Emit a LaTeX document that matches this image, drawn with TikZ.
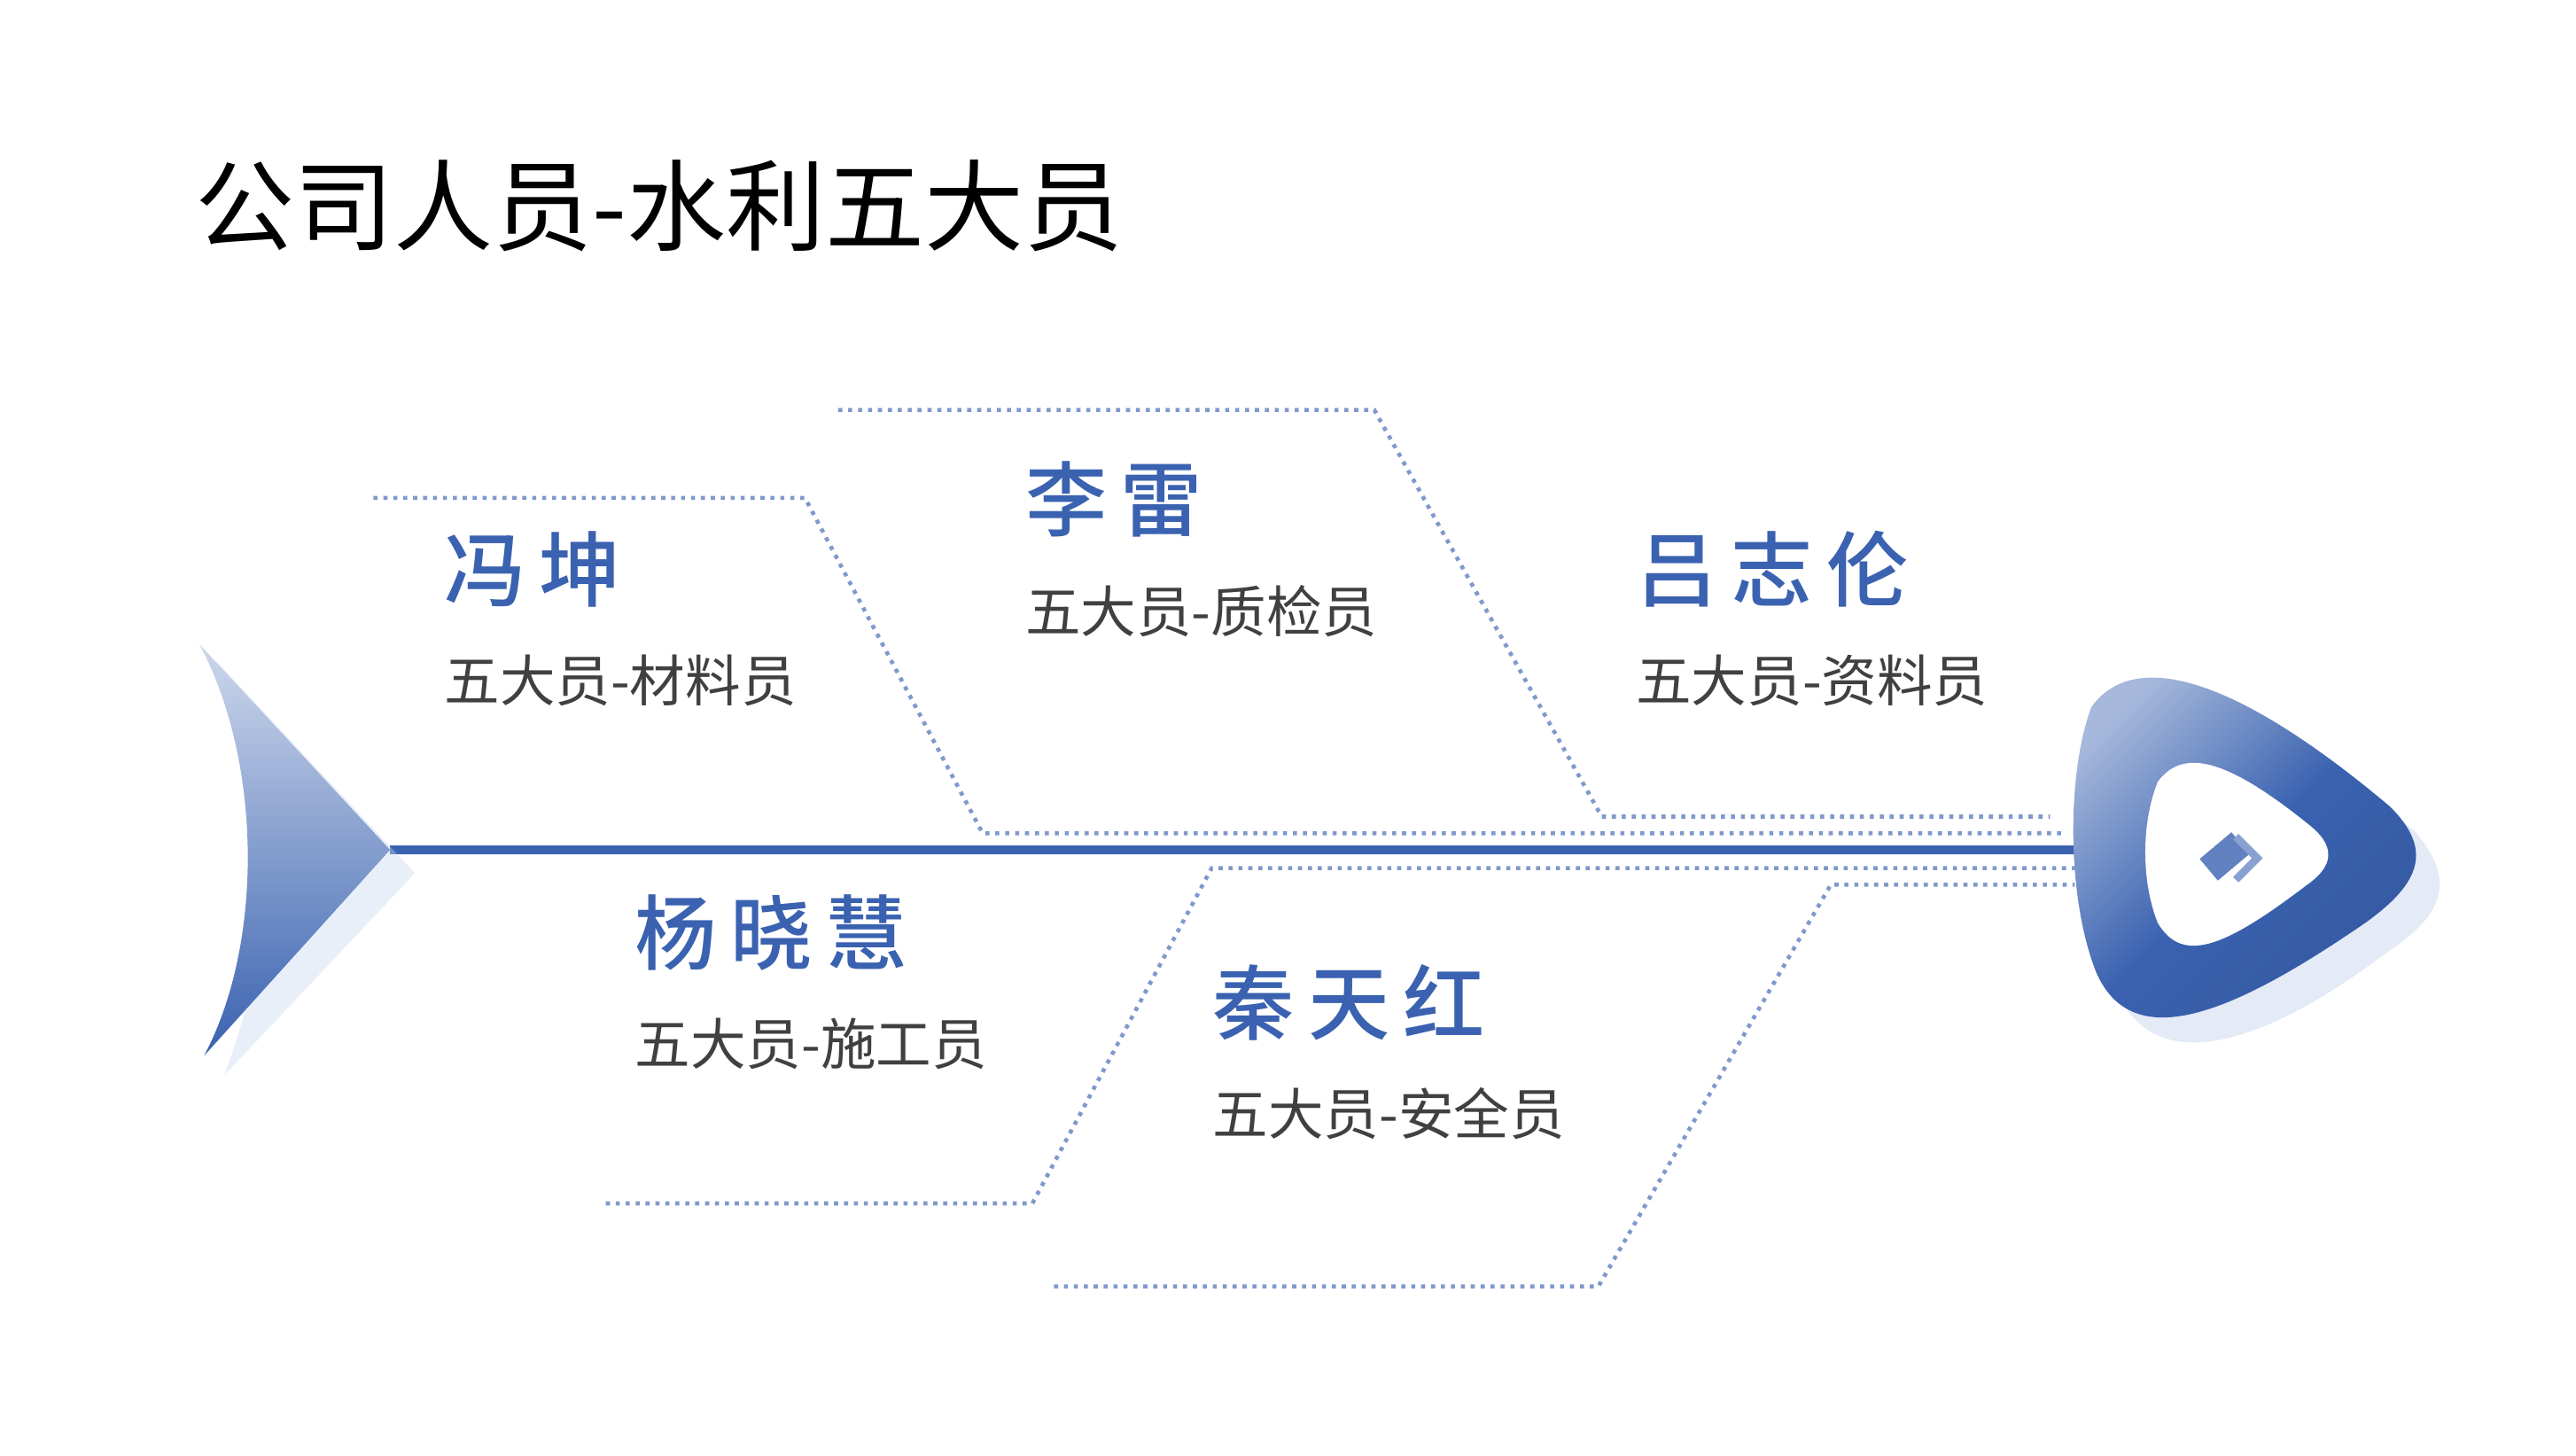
\documentclass[tikz,border=0pt]{standalone}
\usepackage{fontspec}
\newfontfamily\cjk{Noto Sans CJK SC}
\newfontfamily\cjkm{Noto Sans CJK SC Medium}
\usetikzlibrary{shadings}
\definecolor{fb}{HTML}{3A62B0}
\definecolor{fl}{HTML}{C9D6EE}
\begin{document}
\begin{tikzpicture}[x=0.01cm,y=-0.01cm,
  nm/.style={anchor=west,inner sep=0pt,text=fb,font=\cjkm\fontsize{14}{14}\selectfont},
  sb/.style={anchor=west,inner sep=0pt,text=black!75,font=\cjk\fontsize{9.5}{9.5}\selectfont},
  dl/.style={fb!65,densely dotted,line width=0.7pt}]
\useasboundingbox (0,0) rectangle (1552,877);
\begin{scope}[yshift=0.04cm,xshift=-0.05cm]
\node[anchor=west,inner sep=0pt,font=\cjk\fontsize{17}{17}\selectfont] (t) at (122,128) {公司人员-水利五大员};
% spine
\coordinate (s1) at (240,516); \coordinate (s2) at (1262,516);
\draw[fb,line width=1.4pt] (s1) -- (s2);
% dotted branches
\draw[dl] (230,304) -- (490,304) -- (597,506) -- (1250,506);
\draw[dl] (510,251) -- (833,251) -- (970,496) -- (1240,496);
\draw[dl] (370,729) -- (627,729) -- (735,527) -- (1255,527);
\draw[dl] (640,779) -- (968,779) -- (1108,537) -- (1255,537);
% tail
\fill[fl,opacity=0.4] (135,402) .. controls (170,470) and (175,560) .. (140,652) -- (255,530) -- cycle;
\shade[top color=fb!25,bottom color=fb] (125,392) .. controls (162,460) and (165,570) .. (128,640) -- (240,516) -- cycle;
% head
\fill[fl,opacity=0.5] (1275,440) .. controls (1300,400) and (1360,420) .. (1460,505)
  .. controls (1490,540) and (1470,560) .. (1440,580)
  .. controls (1360,640) and (1300,650) .. (1280,600) .. controls (1262,550) and (1262,470) .. cycle;
\shade[shading=axis,top color=fb!45,bottom color=fb!90!black,middle color=fb,shading angle=45] (1265,430) .. controls (1290,395) and (1350,410) .. (1445,490)
  .. controls (1470,515) and (1465,535) .. (1430,560)
  .. controls (1350,615) and (1290,640) .. (1268,590) .. controls (1250,545) and (1250,470) .. cycle;
\fill[white] (1305,475) .. controls (1320,455) and (1345,460) .. (1395,500)
  .. controls (1412,513) and (1412,525) .. (1395,537)
  .. controls (1345,575) and (1320,585) .. (1305,560) .. controls (1295,535) and (1295,500) .. cycle;
\node (icon) at (1346,520) {};
\fill[fb!80,rotate around={40:(1346,520)}] (1333,511) rectangle (1358,528);
\draw[fb!60,line width=1.3pt] (1352,508) -- (1365,521) -- (1352,534);
\fill[white] (1337,513) circle (2.2);
% labels
\node[nm] (n1) at (272,347) {冯\,坤};
\node[sb] (d1) at (272,414) {五大员-材料员};
\node[nm] (n2) at (622,305) {李\,雷};
\node[sb] (d2) at (622,372) {五大员-质检员};
\node[nm] (n3) at (990,347) {吕\,志\,伦};
\node[sb] (d3) at (990,414) {五大员-资料员};
\node[nm] (n4) at (387,566) {杨\,晓\,慧};
\node[sb] (d4) at (387,633) {五大员-施工员};
\node[nm] (n5) at (735,608) {秦\,天\,红};
\node[sb] (d5) at (735,675) {五大员-安全员};
\end{scope}
\end{tikzpicture}
\end{document}
